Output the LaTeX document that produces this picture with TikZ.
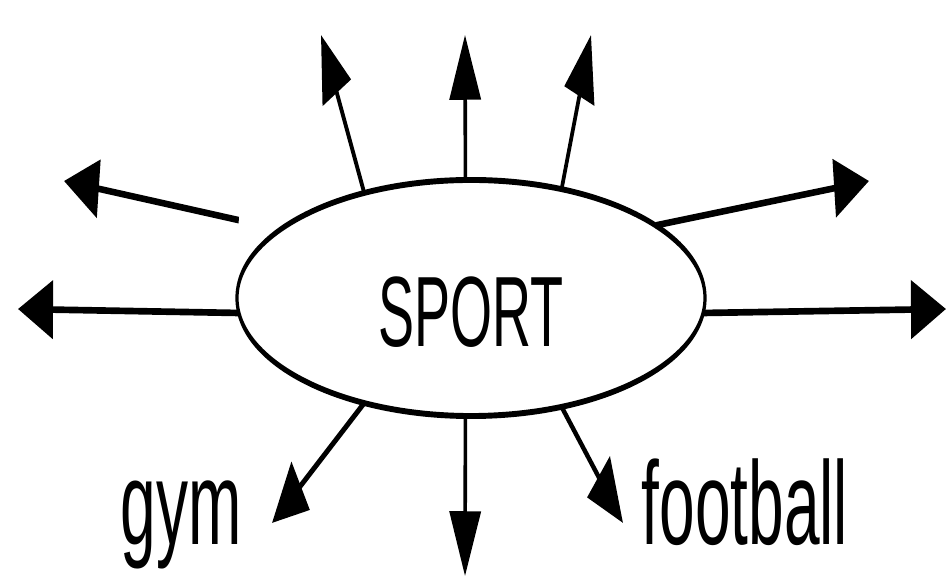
\documentclass[tikz,border=0pt]{standalone}
\usepackage{fontspec}
\setmainfont{Liberation Sans}
\usetikzlibrary{shapes.geometric,arrows.meta}

\begin{document}
\begin{tikzpicture}[x=0.5pt,y=-0.27027pt,
  arr/.style={line width=1.8pt,-{Triangle[length=17.5pt,width=15.5pt]}},
  lbl/.style={font=\fontsize{32}{35}\selectfont,inner sep=0pt,anchor=base}]
\useasboundingbox (0,0) rectangle (474.5pt,-289pt);
\begin{scope}[transform canvas={yscale=1.85}]
% central word
\node[draw,ellipse,line width=1.6pt,minimum width=234pt,minimum height=63.8pt,inner sep=0pt,outer sep=0pt,
  text height=26pt,text depth=0pt,font=\fontsize{27}{30}\selectfont] (sport) at (471,298) {SPORT};
% arrow ends
\coordinate (n1) at (321,35);
\coordinate (n2) at (465,35);
\coordinate (n3) at (591,35);
\coordinate (w1) at (64,181);
\coordinate (e1) at (869,181);
\coordinate (w2) at (18,309);
\coordinate (e2) at (946,309);
\coordinate (s1) at (272,523);
\coordinate (s2) at (465,576);
\coordinate (s3) at (623,523);
\foreach \ang/\tip in {152.4/n1,95/n2,33.6/n3,12.85/e1,-2.1/e2,182.1/w2,208.2/s1,265/s2,-33.6/s3} {
  \draw[arr] (sport.\ang) -- (\tip);
}
% this one does not touch the ellipse
\draw[arr,shorten <=21pt] (sport.169.35) -- (w1);
\node[lbl] (gym) at (181,545) {gym};
\node[lbl] (football) at (745,545) {football};
\end{scope}
\end{tikzpicture}
\end{document}
